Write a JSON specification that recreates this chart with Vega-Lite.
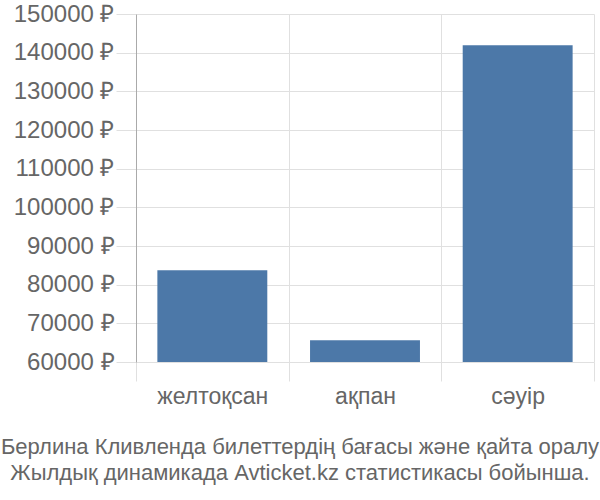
{
  "$schema": "https://vega.github.io/schema/vega-lite/v6.json",
  "width": 458,
  "height": 348,
  "padding": {"left": 136, "top": 14, "right": 6, "bottom": 138},
  "autosize": {"type": "none"},
  "data": {"values": [
    {"month": "желтоқсан", "price": 83700},
    {"month": "ақпан", "price": 65600},
    {"month": "сәуір", "price": 141900}
  ]},
  "title": {
    "text": ["Берлина Кливленда билеттердің бағасы және қайта оралу", "Жылдық динамикада Avticket.kz статистикасы бойынша."],
    "orient": "bottom",
    "anchor": "middle",
    "frame": "group",
    "dx": -65,
    "font": "Liberation Sans",
    "fontSize": 22,
    "fontWeight": "normal",
    "color": "#666666",
    "lineHeight": 26,
    "offset": 29
  },
  "config": {
    "view": {"stroke": null},
    "axis": {"labelFont": "Liberation Sans", "labelColor": "#666666", "labelFontSize": 23, "gridColor": "#e0e0e0", "tickColor": "#e0e0e0"}
  },
  "mark": {"type": "bar", "color": "#4c78a8", "width": {"band": 0.72}, "clip": true},
  "encoding": {
    "x": {
      "field": "month", "type": "nominal", "sort": null,
      "scale": {"paddingInner": 0, "paddingOuter": 0},
      "axis": {"title": null, "labelAngle": 0, "tickBand": "extent", "grid": true, "tickSize": 19, "domain": false, "labelPadding": 4}
    },
    "y": {
      "field": "price", "type": "quantitative",
      "scale": {"domain": [60000, 150000], "nice": false, "zero": false},
      "axis": {"title": null, "values": [60000, 70000, 80000, 90000, 100000, 110000, 120000, 130000, 140000, 150000], "labelExpr": "datum.value + ' ₽'", "labelFontSize": 24, "tickSize": 20, "labelPadding": 2, "domainColor": "#aaaaaa", "labelBaseline": "middle"}
    }
  }
}
